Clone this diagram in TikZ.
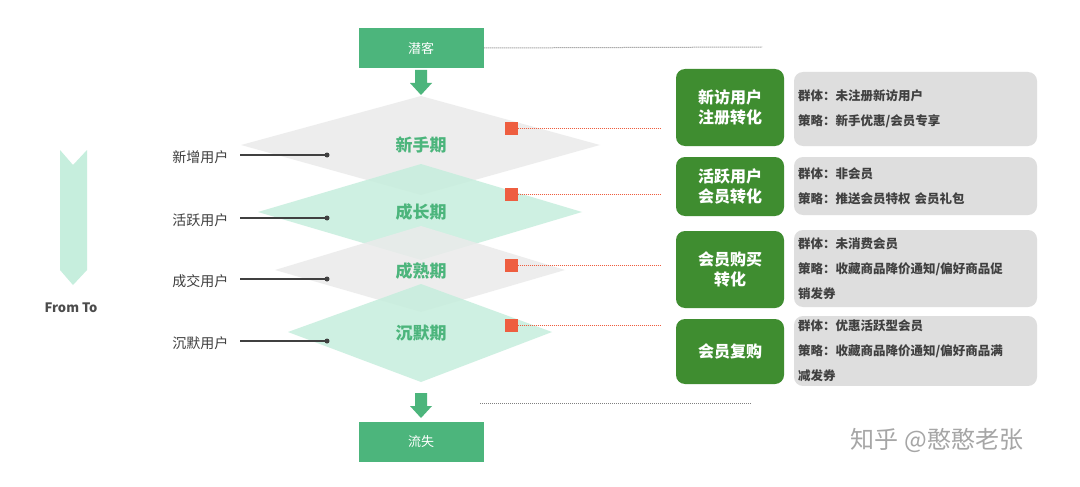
\documentclass[tikz,border=0pt]{standalone}
\usepackage{fontspec}
\setmainfont{Noto Sans CJK SC}
\usetikzlibrary{shapes.geometric}
\definecolor{lg}{HTML}{4CB57C}
\definecolor{dg}{HTML}{3F8D30}
\definecolor{mint}{HTML}{C6EEDD}
\definecolor{gr}{HTML}{EBEBEB}
\definecolor{bx}{HTML}{DEDEDE}
\definecolor{org}{HTML}{EE5E40}
\begin{document}
\begin{tikzpicture}[x=1pt,y=-1pt,
 topbox/.style={fill=lg,minimum width=125pt,minimum height=40pt,text=white,font=\fontsize{13}{13}\selectfont},
 dia/.style={fill opacity=.85},
 stage/.style={text=lg,font=\bfseries\fontsize{17}{17}\selectfont},
 lab/.style={text=black!75,font=\fontsize{14}{14}\selectfont,anchor=east},
 gbox/.style={fill=dg,rounded corners=9pt,text=white,font=\bfseries\fontsize{16}{20}\selectfont,align=center,minimum width=108pt},
 ibox/.style={fill=bx,rounded corners=9pt,minimum width=243pt,text width=235pt,align=left,text=black!75,font=\bfseries\fontsize{12.5}{25}\selectfont,inner sep=4pt},
 sq/.style={fill=org,minimum size=13pt,inner sep=0pt},
 odots/.style={org,densely dotted,line width=1pt},
 garrow/.style={fill=lg}]
\useasboundingbox (0,0) rectangle (1080,487);
\fill[white] (0,0) rectangle (1080,487);
% top / bottom
\node[topbox] (top) at (421,48) {潜客};
\node[topbox] (bot) at (421,442) {流失};
\coordinate (td) at (762,47);
\coordinate (bs) at (480,403);
\coordinate (bd) at (752,403);
\draw[gray,densely dotted,line width=1pt] (top.east) -- (td);
\draw[gray,densely dotted,line width=1pt] (bs) -- (bd);
\fill[garrow] (415,70) -- (427,70) -- (427,83) -- (432,83) -- (421,95) -- (410,83) -- (415,83) -- cycle;
\fill[garrow] (415,393) -- (427,393) -- (427,406) -- (432,406) -- (421,418) -- (410,406) -- (415,406) -- cycle;
% diamonds
\fill[gr,dia] (241,145) -- (421,96) -- (600,145) -- (421,195) -- cycle;
\fill[mint,dia] (258,212) -- (421,164) -- (582,212) -- (421,260) -- cycle;
\fill[gr,dia] (275,270) -- (421,226) -- (565,270) -- (421,312) -- cycle;
\fill[mint,dia] (288,332) -- (421,284) -- (552,332) -- (421,382) -- cycle;
\node[stage] (s1) at (421,145) {新手期};
\node[stage] (s2) at (421,212) {成长期};
\node[stage] (s3) at (421,271) {成熟期};
\node[stage] (s4) at (421,333) {沉默期};
% left labels
\foreach \y/\t/\n in {157/新增用户/a,220/活跃用户/b,281/成交用户/c,343/沉默用户/d}{
 \node[lab] (l\n) at (232,\y) {\t};
 \coordinate (p\n) at (327,\y-2);
 \draw[black!75,line width=1.2pt] (240,\y-2) -- (p\n);
 \fill[black!75] (p\n) circle (2.5pt);
}
% left chevron
\fill[mint] (60,150) -- (73,165) -- (87,150) -- (87,270) -- (73,285) -- (60,270) -- cycle;
\node[text=black!70,font=\bfseries\fontsize{13}{13}\selectfont] (ft) at (71,308) {From To};
% right boxes
\node[gbox,minimum height=77pt] (g1) at (730,107.5) {新访用户\\注册转化};
\node[gbox,minimum height=59pt] (g2) at (730,186.5) {活跃用户\\会员转化};
\node[gbox,minimum height=77pt] (g3) at (730,269.5) {会员购买\\转化};
\node[gbox,minimum height=65pt] (g4) at (730,351.5) {会员复购};
\node[ibox,minimum height=74pt] (i1) at (915.5,109) {群体：未注册新访用户\\策略：新手优惠/会员专享};
\node[ibox,minimum height=58pt] (i2) at (915.5,186) {群体：非会员\\策略：推送会员特权 会员礼包};
\node[ibox,minimum height=77pt] (i3) at (915.5,268.5) {群体：未消费会员\\策略：收藏商品降价通知/偏好商品促\\销发券};
\node[ibox,minimum height=66pt] (i4) at (915.5,351) {群体：优惠活跃型会员\\策略：收藏商品降价通知/偏好商品满\\减发券};
% squares + dotted
\foreach \y/\n in {128/1,194/2,265/3,325/4}{
 \node[sq] (q\n) at (511,\y) {};
 \coordinate (e\n) at (660,\y);
 \draw[odots] (q\n.east) -- (e\n);
}
\node[text=black!35,font=\fontsize{24}{24}\selectfont] (wm) at (937,440) {知乎 @憨憨老张};
\end{tikzpicture}
\end{document}
